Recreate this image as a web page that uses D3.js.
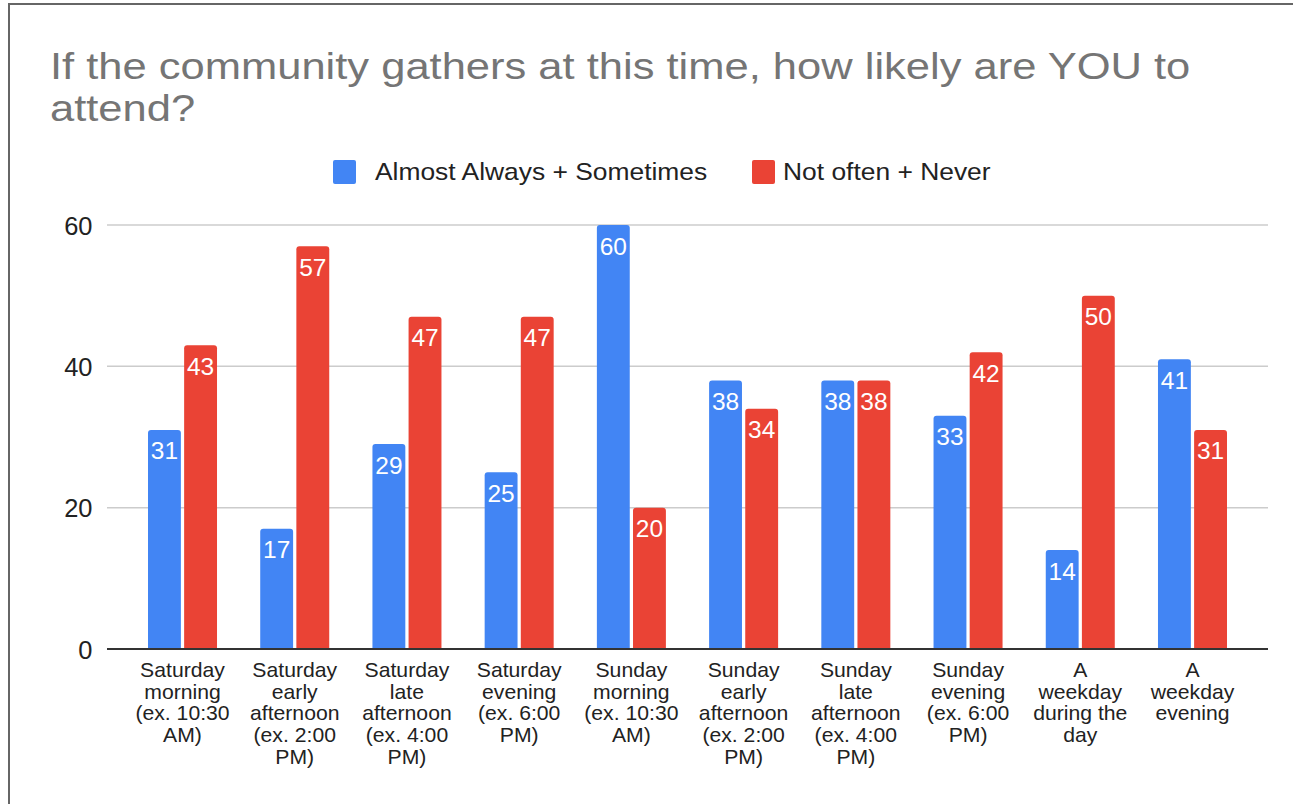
<!DOCTYPE html>
<html>
<head>
<meta charset="utf-8">
<script src="https://cdn.jsdelivr.net/npm/d3@7"></script>
<style>
  html, body { margin: 0; padding: 0; background: #fff; }
  svg { display: block; font-family: "Liberation Sans", Arial, sans-serif; }
</style>
</head>
<body>
<svg id="chart" width="1293" height="804"></svg>
<script>
const titleLines = ["If the community gathers at this time, how likely are YOU to", "attend?"];
const categories = [
  "Saturday\nmorning\n(ex. 10:30\nAM)",
  "Saturday\nearly\nafternoon\n(ex. 2:00\nPM)",
  "Saturday\nlate\nafternoon\n(ex. 4:00\nPM)",
  "Saturday\nevening\n(ex. 6:00\nPM)",
  "Sunday\nmorning\n(ex. 10:30\nAM)",
  "Sunday\nearly\nafternoon\n(ex. 2:00\nPM)",
  "Sunday\nlate\nafternoon\n(ex. 4:00\nPM)",
  "Sunday\nevening\n(ex. 6:00\nPM)",
  "A\nweekday\nduring the\nday",
  "A\nweekday\nevening"
];
const seriesNames = ["Almost Always + Sometimes", "Not often + Never"];
const almostAlways = [31, 17, 29, 25, 60, 38, 38, 33, 14, 41];
const notOften = [43, 57, 47, 47, 20, 34, 38, 42, 50, 31];
const colors = ["#4285f4", "#ea4335"];
const yTicks = [0, 20, 40, 60];

const svg = d3.select("#chart");

// frame
svg.append("path")
  .attr("d", "M9,804 L9,4 L1293,4")
  .attr("fill", "none").attr("stroke", "#666").attr("stroke-width", 2);

// title
svg.append("g").selectAll("text").data(titleLines).join("text")
  .attr("transform", (d, i) => `translate(50,${79 + i * 42}) scale(1.16,1)`)
  .attr("font-size", 37.5).attr("fill", "#757575").text(d => d);

// legend
const legend = svg.append("g");
const legendItems = [{x: 333, tx: 375}, {x: 752, tx: 783}];
seriesNames.forEach((name, i) => {
  legend.append("rect").attr("x", legendItems[i].x).attr("y", 160).attr("width", 23).attr("height", 24)
    .attr("rx", 2).attr("fill", colors[i]);
  legend.append("text").attr("transform", `translate(${legendItems[i].tx},180) scale(1.1,1)`)
    .attr("font-size", 24).attr("fill", "#222").text(name);
});

// scales
const y = d3.scaleLinear().domain([0, 60]).range([649, 225]);
const x0 = d3.scaleBand().domain(categories).range([126.4, 1248.6]).paddingInner(0.385).paddingOuter(0.1925);
const x1 = d3.scaleBand().domain([0, 1]).range([0, x0.bandwidth()]).paddingInner(0.09);

// gridlines
svg.append("g").selectAll("line").data(yTicks.filter(t => t !== 0)).join("line")
  .attr("x1", 107).attr("x2", 1268)
  .attr("y1", d => y(d)).attr("y2", d => y(d))
  .attr("stroke", "#cccccc").attr("stroke-width", 1.5);

// y tick labels
svg.append("g").selectAll("text").data(yTicks).join("text")
  .attr("transform", d => `translate(92.5,${y(d) + 9.5}) scale(0.96,1)`)
  .attr("text-anchor", "end").attr("font-size", 26.5).attr("fill", "#222")
  .text(d => d);

// bars
const rows = categories.map((c, i) => ({c, vals: [almostAlways[i], notOften[i]]}));
function topRounded(x, yTop, w, h, r) {
  r = Math.min(r, h);
  return `M${x},${yTop + h} L${x},${yTop + r} Q${x},${yTop} ${x + r},${yTop} L${x + w - r},${yTop} Q${x + w},${yTop} ${x + w},${yTop + r} L${x + w},${yTop + h} Z`;
}
const groups = svg.append("g").selectAll("g").data(rows).join("g")
  .attr("transform", d => `translate(${x0(d.c)},0)`);
groups.selectAll("path").data(d => d.vals.map((v, k) => ({v, k}))).join("path")
  .attr("d", d => topRounded(x1(d.k), y(d.v), x1.bandwidth(), y(0) - y(d.v), 3))
  .attr("fill", d => colors[d.k]);
groups.selectAll("text.val").data(d => d.vals.map((v, k) => ({v, k}))).join("text")
  .attr("class", "val")
  .attr("transform", d => `translate(${x1(d.k) + x1.bandwidth() / 2},${y(d.v) + 29.5}) scale(1.02,1)`)
  .attr("text-anchor", "middle").attr("font-size", 24).attr("fill", "#fff")
  .text(d => d.v);

// baseline
svg.append("line").attr("x1", 107).attr("x2", 1268).attr("y1", y(0)).attr("y2", y(0))
  .attr("stroke", "#333").attr("stroke-width", 2);

// x labels
const xl = svg.append("g").selectAll("text").data(categories).join("text")
  .attr("text-anchor", "middle").attr("font-size", 20).attr("fill", "#222")
  .attr("transform", d => `translate(${x0(d) + x0.bandwidth() / 2},0) scale(1.06,1)`);
xl.selectAll("tspan").data(d => d.split("\n")).join("tspan")
  .attr("x", 0).attr("y", (d, i) => 677 + i * 21.7).text(d => d);
</script>
</body>
</html>
